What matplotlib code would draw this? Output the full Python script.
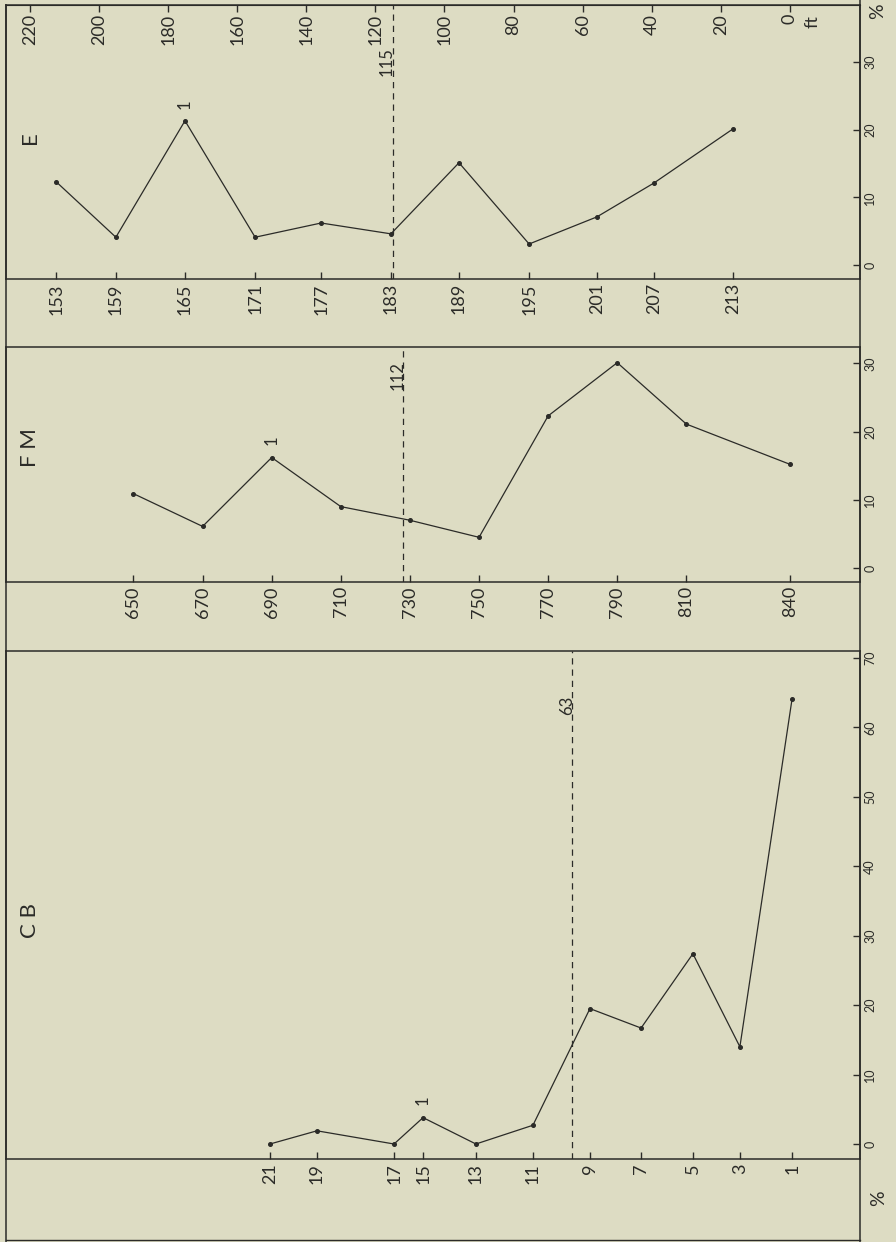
import matplotlib.pyplot as plt
from matplotlib.lines import Line2D

W, H = 896, 1242
BG = '#dddcc3'
INK = '#2b2b28'
plt.rcParams['font.family'] = ['Lato', 'DejaVu Sans']

# depth scale along the top (ft)
ft_ticks = [220, 200, 180, 160, 140, 120, 100, 80, 60, 40, 20, 0]

# E
e_samples = [153, 159, 165, 171, 177, 183, 189, 195, 201, 207, 213]
e_depth = [212.4, 195.1, 175.1, 154.8, 135.7, 115.5, 95.8, 75.5, 55.9, 39.4, 16.5]
e_pct = [12.3, 4.1, 21.3, 4.1, 6.2, 4.6, 15.1, 3.1, 7.1, 12.1, 20.1]
e_pct_ticks = [0, 10, 20, 30]
e_cut = 115
e_mark = 165

# F M
fm_samples = [650, 670, 690, 710, 730, 750, 770, 790, 810, 840]
fm_depth = [190, 170, 150, 130, 110, 90, 70, 50, 30, 0]
fm_pct = [10.9, 6.1, 16.2, 9.0, 7.0, 4.5, 22.3, 30.1, 21.1, 15.2]
fm_pct_ticks = [0, 10, 20, 30]
fm_cut = 112
fm_mark = 690

# C B
cb_samples = [21, 19, 17, 15, 13, 11, 9, 7, 5, 3, 1]
cb_depth = [150.5, 136.9, 114.6, 106.2, 90.9, 74.4, 57.9, 43.1, 28.1, 14.5, -0.6]
cb_pct = [0.0, 1.9, 0.0, 3.8, 0.0, 2.7, 19.5, 16.7, 27.4, 14.0, 64.1]
cb_pct_ticks = [0, 10, 20, 30, 40, 50, 60, 70]
cb_cut = 63
cb_mark = 15


def fx(px):
    return px / W


def fy(py):
    return 1 - py / H


fig = plt.figure(figsize=(W / 100, H / 100), dpi=100, facecolor=BG)

# panel frames in pixels: name, top, bottom, y-limits
panels = [
    ('E', 5, 279, (-2.07, 38.4), e_samples, e_depth, e_pct, e_pct_ticks, e_cut, e_mark, 138, 57, -6),
    ('F M', 347, 582, (-2.05, 32.4), fm_samples, fm_depth, fm_pct, fm_pct_ticks, fm_cut, fm_mark, 448, 29, -5),
    ('C B', 651, 1159, (-2.16, 71.0), cb_samples, cb_depth, cb_pct, cb_pct_ticks, cb_cut, cb_mark, 920, 54, -5),
]

left_px, right_px = 6, 860
xlim = (226.9, -20.26)

axes = []
for (name, top, bot, ylim, samples, depth, pct, yt, cut, mark,
     name_y, cut_dy, cut_dx) in panels:
    ax = fig.add_axes([fx(left_px), fy(bot), fx(right_px - left_px), (bot - top) / H])
    ax.set_facecolor(BG)
    ax.set_xlim(*xlim)
    ax.set_ylim(*ylim)
    for s in ax.spines.values():
        s.set_color(INK)
        s.set_linewidth(1.1)

    ax.plot(depth, pct, '-', color=INK, lw=0.9, marker='o', ms=2.6)
    ax.axvline(cut, color=INK, lw=0.9, ls=(0, (5, 4)))
    ax.annotate(str(cut), xy=(cut, 1), xycoords=('data', 'axes fraction'),
                xytext=(cut_dx, -cut_dy), textcoords='offset pixels',
                rotation=90, ha='center', va='center', fontsize=12, color=INK)

    i = samples.index(mark)
    ax.annotate('1', xy=(depth[i], pct[i]), xytext=(0, 17), textcoords='offset pixels',
                rotation=90, ha='center', va='center', fontsize=12, color=INK)

    ax.set_xticks(depth, labels=[str(s) for s in samples])
    ax.tick_params(axis='x', direction='in', length=5, width=1, colors=INK,
                   labelsize=13, labelrotation=90, pad=3)

    ax.yaxis.tick_right()
    ax.set_yticks(yt, labels=[str(v) for v in yt])
    ax.tick_params(axis='y', direction='in', length=5, width=1, colors=INK,
                   labelsize=9, labelrotation=90, pad=3)
    for lab in ax.get_yticklabels():
        lab.set_va('center')

    fig.text(fx(30), fy(name_y), name, rotation=90, ha='center', va='center',
             fontsize=16, color=INK)
    axes.append(ax)

# depth scale on top of panel E
ax_e = axes[0]
sec = ax_e.secondary_xaxis('top')
sec.set_xticks(ft_ticks)
sec.tick_params(direction='in', length=5, width=1, colors=INK, labeltop=False)
sec.spines['top'].set_color(INK)
for d in ft_ticks:
    ax_e.annotate(str(d), xy=(d, 1), xycoords=('data', 'axes fraction'),
                  xytext=(0, -9), textcoords='offset pixels',
                  rotation=90, ha='center', va='top', fontsize=13, color=INK)
ax_e.annotate('ft', xy=(0, 1), xycoords=('data', 'axes fraction'),
              xytext=(23, -10), textcoords='offset pixels',
              rotation=90, ha='center', va='top', fontsize=13, color=INK)

fig.text(fx(878), fy(11), '%', rotation=90, ha='center', va='center', fontsize=14, color=INK)
fig.text(fx(879), fy(1198), '%', rotation=90, ha='center', va='center', fontsize=14, color=INK)

# outer frame lines joining the panels
fig.add_artist(Line2D([fx(left_px)] * 2, [fy(5), fy(H)], color=INK, lw=1.1))
fig.add_artist(Line2D([fx(right_px)] * 2, [fy(0), fy(H)], color=INK, lw=1.1))
fig.add_artist(Line2D([fx(left_px), fx(right_px)], [fy(1240)] * 2, color=INK, lw=1.0))

fig.savefig('out.png', dpi=100, facecolor=BG)
